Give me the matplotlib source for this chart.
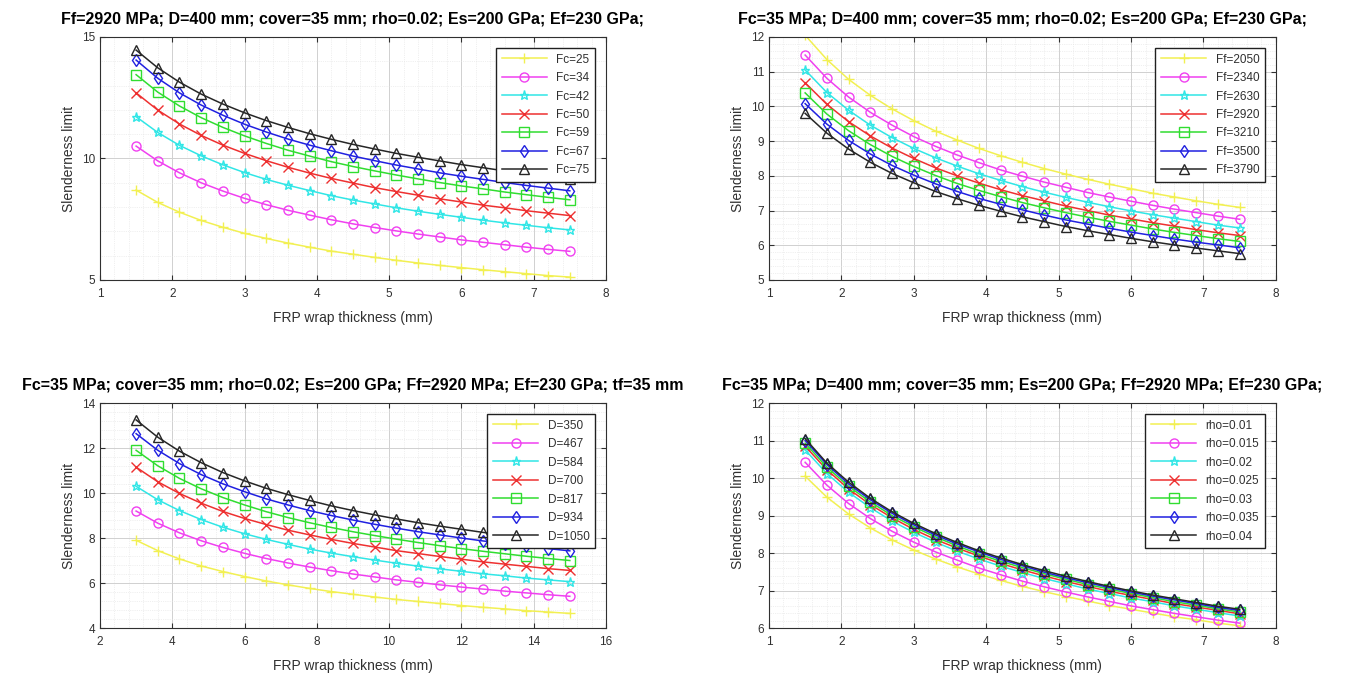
import matplotlib
matplotlib.use("Agg")
import matplotlib.pyplot as plt
from matplotlib.ticker import MultipleLocator, AutoMinorLocator

plt.rcParams['font.family'] = ['Liberation Sans', 'DejaVu Sans']

# ---------------- data ----------------
t_small = [1.5, 1.8, 2.1, 2.4, 2.7, 3.0, 3.3, 3.6, 3.9, 4.2, 4.5, 4.8, 5.1, 5.4, 5.7,
           6.0, 6.3, 6.6, 6.9, 7.2, 7.5]
t_large = [3.0, 3.6, 4.2, 4.8, 5.4, 6.0, 6.6, 7.2, 7.8, 8.4, 9.0, 9.6, 10.2, 10.8, 11.4,
           12.0, 12.6, 13.2, 13.8, 14.4, 15.0]

# Panel 1: varying Fc
fc_labels = ["Fc=25", "Fc=34", "Fc=42", "Fc=50", "Fc=59", "Fc=67", "Fc=75"]
fc_25 = [8.70, 8.19, 7.79, 7.45, 7.17, 6.92, 6.71, 6.52, 6.35, 6.19, 6.06, 5.93, 5.81, 5.70, 5.60, 5.51, 5.42, 5.34, 5.26, 5.18, 5.12]
fc_34 = [10.51, 9.90, 9.41, 9.00, 8.66, 8.36, 8.10, 7.87, 7.67, 7.48, 7.31, 7.16, 7.02, 6.89, 6.77, 6.65, 6.55, 6.45, 6.35, 6.26, 6.18]
fc_42 = [11.72, 11.07, 10.54, 10.11, 9.74, 9.42, 9.14, 8.90, 8.68, 8.47, 8.29, 8.13, 7.97, 7.83, 7.70, 7.58, 7.46, 7.35, 7.25, 7.15, 7.06]
fc_50 = [12.70, 11.99, 11.42, 10.95, 10.55, 10.21, 9.91, 9.64, 9.40, 9.18, 8.99, 8.80, 8.64, 8.49, 8.34, 8.21, 8.08, 7.97, 7.85, 7.75, 7.65]
fc_59 = [13.45, 12.73, 12.16, 11.68, 11.28, 10.93, 10.62, 10.34, 10.10, 9.87, 9.67, 9.49, 9.32, 9.16, 9.01, 8.87, 8.75, 8.62, 8.51, 8.40, 8.30]
fc_67 = [14.05, 13.30, 12.70, 12.20, 11.78, 11.41, 11.09, 10.80, 10.55, 10.32, 10.10, 9.91, 9.73, 9.57, 9.41, 9.27, 9.14, 9.01, 8.89, 8.78, 8.67]
fc_75 = [14.46, 13.73, 13.14, 12.65, 12.24, 11.88, 11.56, 11.28, 11.02, 10.79, 10.58, 10.39, 10.21, 10.05, 9.90, 9.75, 9.62, 9.49, 9.37, 9.26, 9.15]

# Panel 2: varying Ff
ff_labels = ["Ff=2050", "Ff=2340", "Ff=2630", "Ff=2920", "Ff=3210", "Ff=3500", "Ff=3790"]
ff_2050 = [12.05, 11.35, 10.78, 10.32, 9.93, 9.59, 9.29, 9.03, 8.79, 8.58, 8.39, 8.21, 8.05, 7.90, 7.76, 7.63, 7.50, 7.39, 7.28, 7.18, 7.09]
ff_2340 = [11.48, 10.81, 10.27, 9.83, 9.46, 9.13, 8.85, 8.60, 8.38, 8.17, 7.99, 7.82, 7.67, 7.52, 7.39, 7.27, 7.15, 7.04, 6.94, 6.84, 6.75]
ff_2630 = [11.05, 10.40, 9.89, 9.46, 9.10, 8.79, 8.52, 8.28, 8.06, 7.87, 7.69, 7.53, 7.38, 7.24, 7.11, 6.99, 6.88, 6.78, 6.68, 6.58, 6.50]
ff_2920 = [10.68, 10.06, 9.56, 9.15, 8.80, 8.50, 8.23, 8.00, 7.79, 7.60, 7.43, 7.28, 7.13, 7.00, 6.87, 6.76, 6.65, 6.55, 6.45, 6.36, 6.28]
ff_3210 = [10.39, 9.78, 9.30, 8.90, 8.56, 8.27, 8.01, 7.78, 7.58, 7.40, 7.23, 7.08, 6.94, 6.81, 6.69, 6.58, 6.47, 6.37, 6.28, 6.19, 6.11]
ff_3500 = [10.08, 9.49, 9.02, 8.63, 8.30, 8.02, 7.77, 7.55, 7.35, 7.18, 7.02, 6.87, 6.73, 6.61, 6.49, 6.38, 6.28, 6.18, 6.09, 6.01, 5.93]
ff_3790 = [9.80, 9.23, 8.77, 8.39, 8.07, 7.80, 7.55, 7.34, 7.15, 6.98, 6.82, 6.68, 6.54, 6.42, 6.31, 6.20, 6.10, 6.01, 5.92, 5.84, 5.76]

# Panel 3: varying D
d_labels = ["D=350", "D=467", "D=584", "D=700", "D=817", "D=934", "D=1050"]
d_350 = [7.90, 7.44, 7.07, 6.76, 6.51, 6.29, 6.09, 5.92, 5.76, 5.62, 5.50, 5.38, 5.27, 5.18, 5.09, 5.00, 4.92, 4.85, 4.77, 4.71, 4.65]
d_467 = [9.20, 8.66, 8.23, 7.88, 7.58, 7.32, 7.09, 6.89, 6.71, 6.55, 6.40, 6.27, 6.14, 6.03, 5.92, 5.82, 5.73, 5.64, 5.56, 5.48, 5.41]
d_584 = [10.30, 9.70, 9.22, 8.82, 8.48, 8.19, 7.94, 7.72, 7.51, 7.33, 7.17, 7.02, 6.88, 6.75, 6.63, 6.52, 6.41, 6.32, 6.22, 6.14, 6.06]
d_700 = [11.15, 10.50, 9.98, 9.55, 9.18, 8.87, 8.60, 8.35, 8.14, 7.94, 7.76, 7.60, 7.44, 7.31, 7.18, 7.06, 6.94, 6.84, 6.74, 6.64, 6.56]
d_817 = [11.90, 11.21, 10.65, 10.19, 9.80, 9.47, 9.17, 8.91, 8.68, 8.47, 8.28, 8.11, 7.95, 7.80, 7.66, 7.53, 7.41, 7.30, 7.19, 7.09, 7.00]
d_934 = [12.64, 11.90, 11.31, 10.82, 10.41, 10.06, 9.74, 9.47, 9.22, 9.00, 8.80, 8.61, 8.44, 8.28, 8.14, 8.00, 7.87, 7.75, 7.64, 7.53, 7.43]
d_1050 = [13.25, 12.48, 11.86, 11.35, 10.91, 10.54, 10.21, 9.93, 9.67, 9.43, 9.22, 9.03, 8.85, 8.68, 8.53, 8.39, 8.25, 8.13, 8.01, 7.90, 7.79]

# Panel 4: varying rho
rho_labels = ["rho=0.01", "rho=0.015", "rho=0.02", "rho=0.025", "rho=0.03", "rho=0.035", "rho=0.04"]
rho_010 = [10.05, 9.49, 9.04, 8.67, 8.35, 8.08, 7.84, 7.63, 7.44, 7.27, 7.11, 6.97, 6.84, 6.72, 6.60, 6.50, 6.40, 6.30, 6.22, 6.13, 6.06]
rho_015 = [10.42, 9.81, 9.32, 8.92, 8.58, 8.29, 8.03, 7.81, 7.60, 7.42, 7.25, 7.10, 6.96, 6.83, 6.71, 6.59, 6.49, 6.39, 6.30, 6.21, 6.13]
rho_020 = [10.75, 10.12, 9.62, 9.21, 8.85, 8.55, 8.29, 8.05, 7.84, 7.65, 7.48, 7.32, 7.18, 7.04, 6.92, 6.80, 6.70, 6.59, 6.50, 6.41, 6.32]
rho_025 = [10.85, 10.22, 9.71, 9.29, 8.94, 8.63, 8.36, 8.13, 7.92, 7.72, 7.55, 7.39, 7.24, 7.11, 6.98, 6.87, 6.76, 6.65, 6.56, 6.47, 6.38]
rho_030 = [10.93, 10.29, 9.78, 9.36, 9.00, 8.70, 8.43, 8.19, 7.97, 7.78, 7.61, 7.45, 7.30, 7.16, 7.04, 6.92, 6.81, 6.70, 6.61, 6.51, 6.43]
rho_035 = [11.00, 10.36, 9.84, 9.42, 9.06, 8.75, 8.48, 8.24, 8.03, 7.83, 7.66, 7.49, 7.34, 7.21, 7.08, 6.96, 6.85, 6.75, 6.65, 6.55, 6.47]
rho_040 = [11.05, 10.40, 9.89, 9.46, 9.10, 8.79, 8.52, 8.28, 8.06, 7.87, 7.69, 7.53, 7.38, 7.24, 7.11, 6.99, 6.88, 6.78, 6.68, 6.58, 6.50]

titles = [
    "Ff=2920 MPa; D=400 mm; cover=35 mm; rho=0.02; Es=200 GPa; Ef=230 GPa;",
    "Fc=35 MPa; D=400 mm; cover=35 mm; rho=0.02; Es=200 GPa; Ef=230 GPa;",
    "Fc=35 MPa; cover=35 mm; rho=0.02; Es=200 GPa; Ff=2920 MPa; Ef=230 GPa; tf=35 mm",
    "Fc=35 MPa; D=400 mm; cover=35 mm; Es=200 GPa; Ff=2920 MPa; Ef=230 GPa;",
]
xlabel = "FRP wrap thickness (mm)"
ylabel = "Slenderness limit"

# ---------------- styles ----------------
colors = ['#f2f052', '#f040f0', '#30e6e6', '#ee3030', '#30dd30', '#2020e0', '#262626']
markers = ['+', 'o', '*', 'x', 's', 'd', '^']

panels = [
    dict(x=t_small, ys=[fc_25, fc_34, fc_42, fc_50, fc_59, fc_67, fc_75], labels=fc_labels,
         xlim=(1, 8), xstep=1, ylim=(5, 15), ystep=5, pos=[0.0741, 0.5852, 0.3751, 0.3600]),
    dict(x=t_small, ys=[ff_2050, ff_2340, ff_2630, ff_2920, ff_3210, ff_3500, ff_3790], labels=ff_labels,
         xlim=(1, 8), xstep=1, ylim=(5, 12), ystep=1, pos=[0.5700, 0.5852, 0.3758, 0.3600]),
    dict(x=t_large, ys=[d_350, d_467, d_584, d_700, d_817, d_934, d_1050], labels=d_labels,
         xlim=(2, 16), xstep=2, ylim=(4, 14), ystep=2, pos=[0.0741, 0.0696, 0.3751, 0.3333]),
    dict(x=t_small, ys=[rho_010, rho_015, rho_020, rho_025, rho_030, rho_035, rho_040], labels=rho_labels,
         xlim=(1, 8), xstep=1, ylim=(6, 12), ystep=1, pos=[0.5700, 0.0696, 0.3758, 0.3333]),
]

fig = plt.figure(figsize=(13.49, 6.75), dpi=100)

for p, title in zip(panels, titles):
    ax = fig.add_axes(p['pos'])
    for y, lab, c, m in zip(p['ys'], p['labels'], colors, markers):
        ax.plot(p['x'], y, color=c, marker=m, markersize=6.5, markerfacecolor='none',
                markeredgecolor=c, linewidth=1.1, markeredgewidth=1.0, label=lab)
    ax.set_xlim(*p['xlim'])
    ax.set_ylim(*p['ylim'])
    ax.xaxis.set_major_locator(MultipleLocator(p['xstep']))
    ax.yaxis.set_major_locator(MultipleLocator(p['ystep']))
    ax.xaxis.set_minor_locator(AutoMinorLocator(5))
    ax.yaxis.set_minor_locator(AutoMinorLocator(5))
    ax.grid(True, which='major', color='#d0d0d0', linewidth=0.7)
    ax.grid(True, which='minor', color='#e2e2e2', linewidth=0.5, linestyle=':')
    ax.set_axisbelow(True)
    ax.tick_params(which='both', direction='in', top=True, right=True,
                   labelsize=8.5, colors='#303030')
    ax.tick_params(axis='x', pad=6)
    ax.tick_params(which='minor', length=0)
    for s in ax.spines.values():
        s.set_color('#303030')
        s.set_linewidth(0.8)
    ax.set_xlabel(xlabel, fontsize=10, color='#303030', labelpad=8)
    ax.set_ylabel(ylabel, fontsize=10, color='#303030')
    ax.set_title(title, fontsize=11.5, fontweight='bold', pad=10)
    leg = ax.legend(loc='upper right', fontsize=8.5, frameon=True, fancybox=False,
                    edgecolor='#202020', framealpha=1, borderaxespad=0.9,
                    handlelength=3.8, labelspacing=0.55, borderpad=0.5)
    leg.get_frame().set_linewidth(1.0)
    for t in leg.get_texts():
        t.set_ha('right')
        t.set_color('#303030')

fig.savefig('out.png', dpi=100)
